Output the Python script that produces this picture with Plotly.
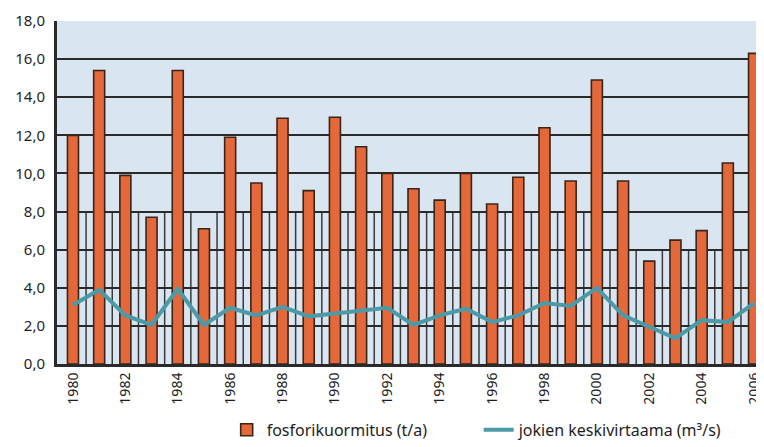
import plotly.graph_objects as go

years = list(range(1980, 2007))
phosphorus = [12.0, 15.4, 9.9, 7.7, 15.4, 7.1, 11.9, 9.5, 12.9, 9.1, 12.95, 11.4,
              10.0, 9.2, 8.6, 10.0, 8.4, 9.8, 12.4, 9.6, 14.9, 9.6, 5.4, 6.5,
              7.0, 10.55, 16.3]
flow = [3.1, 3.9, 2.55, 2.05, 3.95, 2.05, 2.95, 2.55, 3.0, 2.5, 2.65, 2.8,
        2.95, 2.05, 2.55, 2.9, 2.2, 2.55, 3.2, 3.05, 4.0, 2.55, 1.95, 1.35,
        2.3, 2.2, 3.2]
y_ticks = [0, 2, 4, 6, 8, 10, 12, 14, 16, 18]
y_labels = ["0,0", "2,0", "4,0", "6,0", "8,0", "10,0", "12,0", "14,0", "16,0", "18,0"]
x_ticks = years[::2]
x_labels = [str(y) for y in x_ticks]
name_bar = "fosforikuormitus (t/a)"
name_line = "jokien keskivirtaama (m³/s)"

FONT = "Noto Sans"
ORANGE = "#e5683a"
TEAL = "#4c9aa7"
DARK = "#2a2a2a"

fig = go.Figure()
fig.add_trace(go.Bar(
    x=years, y=phosphorus, name=name_bar, width=0.42,
    marker=dict(color=ORANGE, line=dict(color="#3b2418", width=1.6)),
))
fig.add_trace(go.Scatter(
    x=years, y=flow, name=name_line, mode="lines",
    line=dict(color=TEAL, width=4),
))

shapes = []
for yr in years[:-1]:
    top = 8 if yr < 2000 else 6
    shapes.append(dict(type="line", xref="x", yref="y", x0=yr + 0.5, x1=yr + 0.5,
                       y0=0, y1=top, layer="below",
                       line=dict(color="#3a3a3a", width=1.5)))

# page body has an 8px margin, so the figure is sized to fit the 764x447 window
fig.update_layout(
    width=756, height=439,
    margin=dict(l=49, r=0, t=13, b=83, autoexpand=False),
    paper_bgcolor="white", plot_bgcolor="#d9e5f1",
    font=dict(family=FONT, color="#1e1e1e", size=14),
    bargap=0.5,
    shapes=shapes,
    showlegend=True,
    legend=dict(orientation="h", x=0.24, xanchor="left", y=-0.192, yanchor="middle",
                font=dict(size=16, family=FONT), entrywidth=207,
                bgcolor="rgba(0,0,0,0)"),
    xaxis=dict(range=[1979.39, 2006.38], tickmode="array", tickvals=x_ticks,
               ticktext=x_labels, tickangle=-90, showgrid=False, zeroline=False,
               showline=True, linecolor=DARK, linewidth=3, ticks="",
               automargin=False, tickfont=dict(size=14, family=FONT)),
    yaxis=dict(range=[0, 18], tickmode="array", tickvals=y_ticks, ticktext=y_labels,
               showgrid=True, gridcolor=DARK, gridwidth=1.8, zeroline=False,
               showline=True, linecolor=DARK, linewidth=3, ticks="",
               automargin=False, ticklabelstandoff=6, tickfont=dict(size=15, family=FONT)),
)

fig.write_html("out.html")
